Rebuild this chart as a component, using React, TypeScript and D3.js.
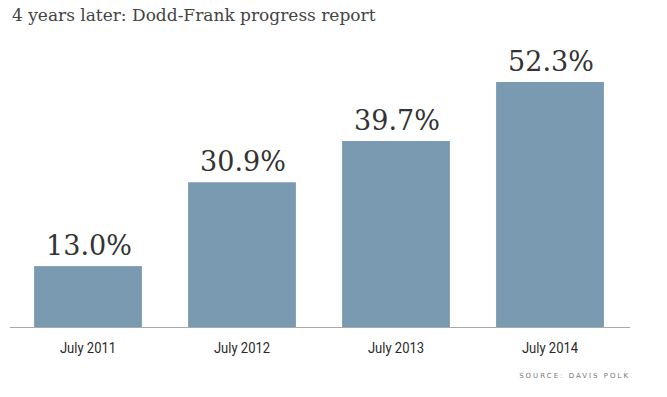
import React from 'react';
import * as d3 from 'd3';

const categories = ['July 2011', 'July 2012', 'July 2013', 'July 2014'];
const values = [13.0, 30.9, 39.7, 52.3];
const title = '4 years later: Dodd-Frank progress report';
const source = 'SOURCE: DAVIS POLK';

const W = 667;
const H = 397;
const baseY = 327;

export default function App() {
  const x = d3.scaleBand<string>()
    .domain(categories)
    .range([11, 627])
    .paddingInner(0.3)
    .paddingOuter(0.15);

  // 52.3% maps to y=82
  const y = d3.scaleLinear().domain([0, 52.3]).range([baseY, 82]);

  return (
    <svg width={W} height={H} style={{ position: 'absolute', left: 0, top: 0, background: '#fff' }}>
      <text x={12} y={21} fontFamily="DejaVu Serif" fontSize={17} fill="#444">{title}</text>

      {categories.map((c, i) => {
        const bx = x(c) as number;
        const cx = bx + x.bandwidth() / 2;
        return (
          <g key={c}>
            <rect x={bx} y={y(values[i])} width={x.bandwidth()} height={baseY - y(values[i])} fill="#7a9ab2" />
            <text x={cx + 1} y={y(values[i]) - 11} textAnchor="middle" fontFamily="DejaVu Serif" fontSize={27} fill="#333">
              {d3.format('.1f')(values[i]) + '%'}
            </text>
            <g transform={`translate(${cx},353) scale(0.84,1)`}>
              <text x={0} y={0} textAnchor="middle" fontFamily="Roboto" fontSize={15.5} fill="#2a2a2a">{c}</text>
            </g>
          </g>
        );
      })}

      <line x1={10} x2={630} y1={baseY + 0.5} y2={baseY + 0.5} stroke="#aaa" strokeWidth={1} />

      <text x={630} y={378} textAnchor="end" fontFamily="DejaVu Sans" fontSize={7} letterSpacing={2} fill="#777">{source}</text>
    </svg>
  );
}
